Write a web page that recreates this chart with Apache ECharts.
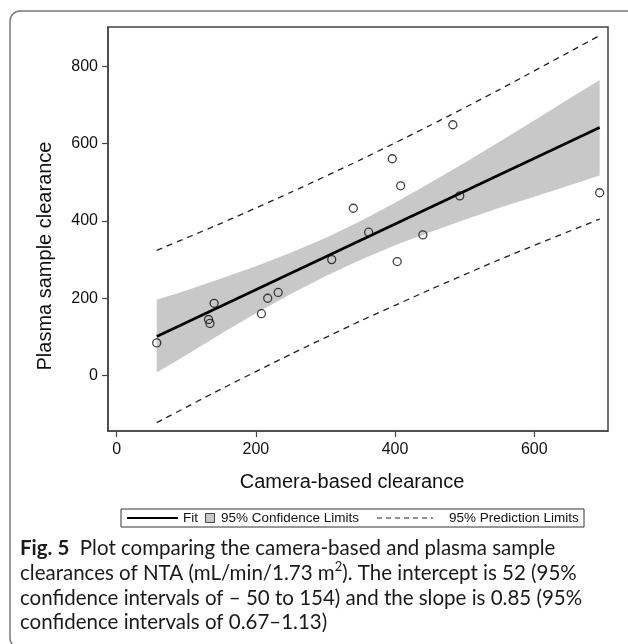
<!DOCTYPE html>
<html>
<head>
<meta charset="utf-8">
<script src="https://cdn.jsdelivr.net/npm/echarts@6/dist/echarts.min.js"></script>
<style>
html,body{margin:0;padding:0;background:#fff;}
#chart{width:628px;height:644px;}
</style>
</head>
<body>
<div id="chart"></div>
<script>
// ---- data ----
const xTicks = [0, 200, 400, 600];
const yTicks = [0, 200, 400, 600, 800];

const obsX = [57.5, 132, 134, 140, 208, 217, 232, 309, 340, 362, 396, 403, 408, 440, 483, 493, 694];
const obsY = [84.5, 145, 135, 187, 160, 200, 215, 300, 433, 371, 561, 295, 491, 364, 649, 465, 473];

const fitX = [57.5, 694];
const fitY = [101, 642];

const bandX = [57.5, 100, 150, 200, 250, 300, 350, 400, 450, 500, 550, 600, 650, 694];
const bandUpper = [196, 220, 251, 283, 318, 356, 399, 447, 498, 551, 605, 660, 716, 765];
const bandLower = [8, 53, 108, 161, 211, 257, 299, 337, 371, 403, 434, 463, 492, 518];

const predX = [57.5, 150, 250, 350, 450, 550, 694];
const predUpper = [324, 394, 474, 558, 647, 740, 880];
const predLower = [-122, -35, 55, 141, 222, 300, 405];

const xTitle = 'Camera-based clearance';
const yTitle = 'Plasma sample clearance';
const legendLabels = ['Fit', '95% Confidence Limits', '95% Prediction Limits'];

const axisFont = 'Liberation Sans, Arial, sans-serif';
const capFont = 'Lato, "Open Sans", sans-serif';

const zip = (a, b) => a.map((v, i) => [v, b[i]]);

const chart = echarts.init(document.getElementById('chart'), null, {renderer: 'canvas'});

const axisCommon = {
  type: 'value',
  splitLine: {show: false},
  axisLine: {show: true, onZero: false, lineStyle: {color: '#444', width: 1.5}},
  axisTick: {show: true, inside: false, length: 6, lineStyle: {color: '#444', width: 1.2}},
  axisLabel: {color: '#111', fontSize: 16, fontFamily: axisFont, margin: 11}
};

const option = {
  backgroundColor: '#fff',
  animation: false,
  grid: {left: 108, right: 20, top: 27, bottom: 213, show: true, borderColor: '#444', borderWidth: 1.5, backgroundColor: '#fff'},
  xAxis: Object.assign({}, axisCommon, {
    min: -12.5, max: 706,
    axisTick: Object.assign({}, axisCommon.axisTick, {customValues: xTicks}),
    axisLabel: Object.assign({}, axisCommon.axisLabel, {customValues: xTicks})
  }),
  yAxis: Object.assign({}, axisCommon, {
    min: -143.5, max: 902,
    axisTick: Object.assign({}, axisCommon.axisTick, {customValues: yTicks}),
    axisLabel: Object.assign({}, axisCommon.axisLabel, {customValues: yTicks, margin: 10})
  }),
  series: [
    {
      name: legendLabels[1],
      type: 'custom',
      silent: true,
      z: 1,
      data: [[bandX[0], bandLower[0]]],
      renderItem: function (params, api) {
        const pts = [];
        for (let i = 0; i < bandX.length; i++) pts.push(api.coord([bandX[i], bandUpper[i]]));
        for (let i = bandX.length - 1; i >= 0; i--) pts.push(api.coord([bandX[i], bandLower[i]]));
        return {type: 'polygon', shape: {points: pts}, style: {fill: '#c8c8c8', stroke: null}};
      }
    },
    {
      name: legendLabels[2], type: 'line', z: 2, symbol: 'none', silent: true,
      data: zip(predX, predUpper), smooth: 0.2,
      lineStyle: {color: '#222', width: 1.3, type: [6, 5]}
    },
    {
      name: legendLabels[2] + ' (lower)', type: 'line', z: 2, symbol: 'none', silent: true,
      data: zip(predX, predLower), smooth: 0.2,
      lineStyle: {color: '#222', width: 1.3, type: [6, 5]}
    },
    {
      name: legendLabels[0], type: 'line', z: 3, symbol: 'none', silent: true,
      data: zip(fitX, fitY),
      lineStyle: {color: '#000', width: 2.6}
    },
    {
      name: 'Observed', type: 'scatter', z: 4, silent: true,
      data: zip(obsX, obsY),
      symbol: 'circle', symbolSize: 8,
      itemStyle: {color: 'rgba(255,255,255,0)', borderColor: '#111', borderWidth: 1.3}
    }
  ],
  graphic: [
    // outer frame
    {type: 'rect', z: 0, shape: {x: 10, y: 11, width: 640, height: 637, r: 10},
     style: {fill: null, stroke: '#7a7a7a', lineWidth: 1.5}},
    // axis titles
    {type: 'text', x: 352, y: 482, style: {text: xTitle, font: '20px ' + axisFont, fill: '#111', align: 'center', verticalAlign: 'middle'}},
    {type: 'text', x: 45, y: 256, rotation: Math.PI / 2,
     style: {text: yTitle, font: '20px ' + axisFont, fill: '#111', align: 'center', verticalAlign: 'middle'}},
    // legend
    {type: 'group', children: [
      {type: 'rect', shape: {x: 121, y: 509, width: 463, height: 18}, style: {fill: '#fff', stroke: '#333', lineWidth: 1}},
      {type: 'line', shape: {x1: 127, y1: 518, x2: 178, y2: 518}, style: {stroke: '#000', lineWidth: 2}},
      {type: 'text', x: 183, y: 518, style: {text: legendLabels[0], font: '13.5px ' + axisFont, fill: '#111', verticalAlign: 'middle'}},
      {type: 'rect', shape: {x: 205.5, y: 513.5, width: 9, height: 9}, style: {fill: '#c8c8c8', stroke: '#444', lineWidth: 1}},
      {type: 'text', x: 221, y: 518, style: {text: legendLabels[1], font: '13.5px ' + axisFont, fill: '#111', verticalAlign: 'middle'}},
      {type: 'line', shape: {x1: 377, y1: 518, x2: 433, y2: 518}, style: {stroke: '#222', lineWidth: 1.2, lineDash: [5, 4]}},
      {type: 'text', x: 449, y: 518, style: {text: legendLabels[2], font: '13.5px ' + axisFont, fill: '#111', verticalAlign: 'middle'}}
    ]},
    // caption
    {type: 'text', x: 20, y: 536, style: {
      text: '{b|Fig. 5}  Plot comparing the camera-based and plasma sample\n' +
            'clearances of NTA (mL/min/1.73 m{s|2}). The intercept is 52 (95%\n' +
            'confidence intervals of \u2013 50 to 154) and the slope is 0.85 (95%\n' +
            'confidence intervals of 0.67\u20131.13)',
      font: '20.5px ' + capFont, fill: '#1a1a1a', lineHeight: 24.8,
      rich: {
        b: {fontWeight: 'bold', fontSize: 20.5, fontFamily: capFont, fill: '#1a1a1a', lineHeight: 24.8},
        s: {fontSize: 13, fontFamily: capFont, fill: '#1a1a1a', verticalAlign: 'top', lineHeight: 24.8, padding: [0, 0, 8, 0]}
      }
    }}
  ]
};
chart.setOption(option);
</script>
</body>
</html>
